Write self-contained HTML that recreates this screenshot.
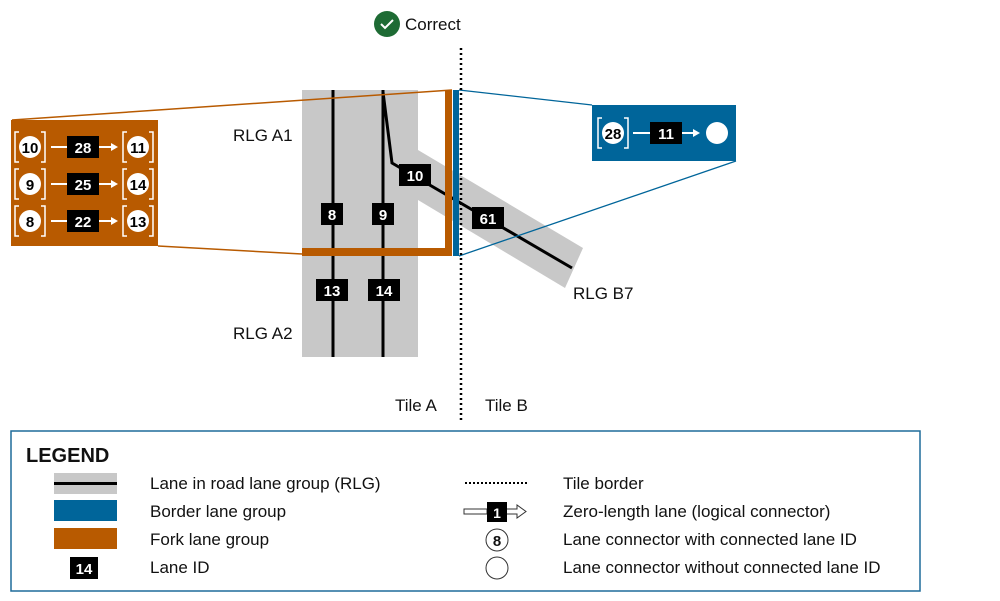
<!DOCTYPE html>
<html><head><meta charset="utf-8"><style>
html,body{margin:0;padding:0;background:#fff;}
svg{display:block;font-family:"Liberation Sans",Arial,sans-serif;}
</style></head><body>
<svg width="1000" height="601" viewBox="0 0 1000 601" xmlns="http://www.w3.org/2000/svg">
<defs>
<g id="bk"><path d="M-11,-15 h-4 v30 h4 M11,-15 h4 v30 h-4" fill="none" stroke="#fff" stroke-width="1.5"/></g>
</defs>
<!-- Correct -->
<circle cx="387" cy="24" r="13" fill="#1e6b34"/>
<path d="M381,24 l4,4 l8,-8" fill="none" stroke="#fff" stroke-width="2"/>
<text x="405" y="30" font-size="17" fill="#111">Correct</text>

<!-- road A -->
<rect x="302" y="90" width="116" height="267" fill="#c8c8c8"/>
<!-- B7 band -->
<polygon points="418,150 583,248 565,288 418,200" fill="#c8c8c8"/>
<line x1="333" y1="90" x2="333" y2="357" stroke="#000" stroke-width="3"/>
<line x1="383" y1="90" x2="383" y2="357" stroke="#000" stroke-width="3"/>
<polyline points="383,92 392,163 572,268" fill="none" stroke="#000" stroke-width="3"/>

<!-- fork outline -->
<line x1="12" y1="120" x2="452" y2="90" stroke="#b85a00" stroke-width="1.5"/>
<line x1="158" y1="246" x2="302" y2="254" stroke="#b85a00" stroke-width="1.5"/>
<rect x="302" y="248" width="150" height="8" fill="#b85a00"/>
<rect x="445" y="90" width="7" height="166" fill="#b85a00"/>
<!-- border -->
<rect x="453" y="90" width="6" height="166" fill="#00659a"/>
<line x1="459" y1="90" x2="592" y2="105" stroke="#00659a" stroke-width="1.3"/>
<line x1="459" y1="256" x2="736" y2="161" stroke="#00659a" stroke-width="1.3"/>
<line x1="461" y1="48" x2="461" y2="420" stroke="#000" stroke-width="2.5" stroke-dasharray="2,3"/>

<!-- lane ids -->
<g font-weight="bold" font-size="15" fill="#fff" text-anchor="middle">
<rect x="321" y="203" width="22" height="22" fill="#000"/><text x="332" y="220">8</text>
<rect x="372" y="203" width="22" height="22" fill="#000"/><text x="383" y="220">9</text>
<rect x="399" y="164" width="32" height="22" fill="#000"/><text x="415" y="181">10</text>
<rect x="316" y="279" width="32" height="22" fill="#000"/><text x="332" y="296">13</text>
<rect x="368" y="279" width="32" height="22" fill="#000"/><text x="384" y="296">14</text>
<rect x="472" y="207" width="32" height="22" fill="#000"/><text x="488" y="224">61</text>
</g>

<!-- orange box -->
<rect x="11" y="120" width="147" height="126" fill="#b85a00"/>
<g font-weight="bold" font-size="15" text-anchor="middle">
<g transform="translate(0,147)">
<use href="#bk" x="30"/><circle cx="30" cy="0" r="11" fill="#fff"/><text x="30" y="6">10</text>
<line x1="51" y1="0" x2="68" y2="0" stroke="#fff" stroke-width="2"/>
<rect x="67" y="-11" width="32" height="22" fill="#000"/><text x="83" y="6" fill="#fff">28</text>
<line x1="99" y1="0" x2="112" y2="0" stroke="#fff" stroke-width="2"/><polygon points="111,-4 118,0 111,4" fill="#fff"/>
<use href="#bk" x="138"/><circle cx="138" cy="0" r="11" fill="#fff"/><text x="138" y="6">11</text>
</g>
<g transform="translate(0,184)">
<use href="#bk" x="30"/><circle cx="30" cy="0" r="11" fill="#fff"/><text x="30" y="6">9</text>
<line x1="51" y1="0" x2="68" y2="0" stroke="#fff" stroke-width="2"/>
<rect x="67" y="-11" width="32" height="22" fill="#000"/><text x="83" y="6" fill="#fff">25</text>
<line x1="99" y1="0" x2="112" y2="0" stroke="#fff" stroke-width="2"/><polygon points="111,-4 118,0 111,4" fill="#fff"/>
<use href="#bk" x="138"/><circle cx="138" cy="0" r="11" fill="#fff"/><text x="138" y="6">14</text>
</g>
<g transform="translate(0,221)">
<use href="#bk" x="30"/><circle cx="30" cy="0" r="11" fill="#fff"/><text x="30" y="6">8</text>
<line x1="51" y1="0" x2="68" y2="0" stroke="#fff" stroke-width="2"/>
<rect x="67" y="-11" width="32" height="22" fill="#000"/><text x="83" y="6" fill="#fff">22</text>
<line x1="99" y1="0" x2="112" y2="0" stroke="#fff" stroke-width="2"/><polygon points="111,-4 118,0 111,4" fill="#fff"/>
<use href="#bk" x="138"/><circle cx="138" cy="0" r="11" fill="#fff"/><text x="138" y="6">13</text>
</g>
<!-- blue box -->
<rect x="592" y="105" width="144" height="56" fill="#00659a"/>
<g transform="translate(0,133)">
<use href="#bk" x="613"/><circle cx="613" cy="0" r="11" fill="#fff"/><text x="613" y="6">28</text>
<line x1="633" y1="0" x2="651" y2="0" stroke="#fff" stroke-width="2"/>
<rect x="650" y="-11" width="32" height="22" fill="#000"/><text x="666" y="6" fill="#fff">11</text>
<line x1="682" y1="0" x2="694" y2="0" stroke="#fff" stroke-width="2"/><polygon points="693,-4 700,0 693,4" fill="#fff"/>
<circle cx="717" cy="0" r="11" fill="#fff"/>
</g>
</g>

<g font-size="17" fill="#111">
<text x="233" y="141">RLG A1</text>
<text x="233" y="339">RLG A2</text>
<text x="395" y="411">Tile A</text>
<text x="485" y="411">Tile B</text>
<text x="573" y="299">RLG B7</text>
</g>

<!-- legend -->
<rect x="11" y="431" width="909" height="160" fill="#fff" stroke="#1e6b9a" stroke-width="1.5"/>
<text x="26" y="462" font-size="20" font-weight="bold" fill="#111">LEGEND</text>
<rect x="54" y="473" width="63" height="21" fill="#c8c8c8"/>
<line x1="54" y1="483.5" x2="117" y2="483.5" stroke="#000" stroke-width="3"/>
<rect x="54" y="500" width="63" height="21" fill="#00659a"/>
<rect x="54" y="528" width="63" height="21" fill="#b85a00"/>
<rect x="70" y="557" width="28" height="22" fill="#000"/>
<text x="84" y="574" font-size="15" font-weight="bold" fill="#fff" text-anchor="middle">14</text>
<g font-size="17" fill="#111">
<text x="150" y="489">Lane in road lane group (RLG)</text>
<text x="150" y="517">Border lane group</text>
<text x="150" y="545">Fork lane group</text>
<text x="150" y="573">Lane ID</text>
<text x="563" y="489">Tile border</text>
<text x="563" y="517">Zero-length lane (logical connector)</text>
<text x="563" y="545">Lane connector with connected lane ID</text>
<text x="563" y="573">Lane connector without connected lane ID</text>
</g>
<line x1="465" y1="483" x2="527" y2="483" stroke="#000" stroke-width="2" stroke-dasharray="2,2"/>
<rect x="464" y="509" width="23" height="5" fill="#fff" stroke="#333" stroke-width="1"/>
<rect x="487" y="502" width="20" height="20" fill="#000"/>
<text x="497" y="518" font-size="14" font-weight="bold" fill="#fff" text-anchor="middle">1</text>
<path d="M507,509 h10 v-4 l9,6.5 l-9,6.5 v-4 h-10" fill="#fff" stroke="#333" stroke-width="1"/>
<circle cx="497" cy="540" r="11" fill="#fff" stroke="#333" stroke-width="1"/>
<text x="497" y="546" font-size="15" font-weight="bold" fill="#111" text-anchor="middle">8</text>
<circle cx="497" cy="568" r="11" fill="#fff" stroke="#333" stroke-width="1"/>
</svg>
</body></html>
